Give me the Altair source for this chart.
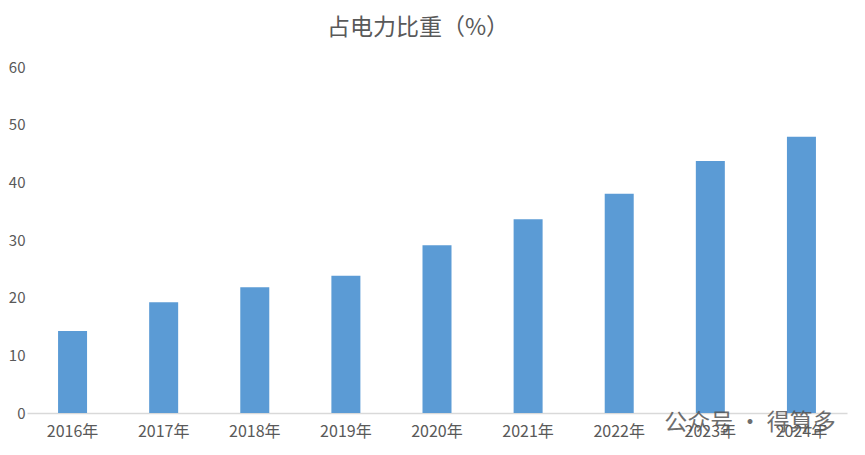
import altair as alt
import pandas as pd

years = ["2016年", "2017年", "2018年", "2019年", "2020年", "2021年", "2022年", "2023年", "2024年"]
shares = [14.2, 19.2, 21.8, 23.8, 29.1, 33.6, 38.0, 43.7, 47.9]
y_ticks = [0, 10, 20, 30, 40, 50, 60]
watermark_text = ["公众号 · 得算多"]
watermark_year = ["2023年"]

df = pd.DataFrame({"year": years, "share": shares})
wm = pd.DataFrame({"year": watermark_year, "share": [0], "label": watermark_text})

FONT = "Noto Sans CJK SC"

x_enc = alt.X("year:N", sort=years, title=None,
              scale=alt.Scale(paddingInner=0, paddingOuter=0),
              axis=alt.Axis(labelAngle=0, labelFontSize=16, labelColor="#595959",
                            labelFont=FONT, ticks=False, labelPadding=10,
                            domainColor="#d9d9d9", domainWidth=1.5))
y_enc = alt.Y("share:Q", title=None,
              scale=alt.Scale(domain=[0, 60], nice=False),
              axis=alt.Axis(values=y_ticks, grid=False, domain=False, ticks=False,
                            labelFontSize=15, labelColor="#595959", labelFont=FONT,
                            labelPadding=2))

bars = alt.Chart(df).mark_bar(color="#5b9bd5", size=29).encode(x=x_enc, y=y_enc)

mark = alt.Chart(wm).mark_text(align="left", baseline="alphabetic", dx=-46, dy=17,
                               fontSize=23, font=FONT, color="#555555", opacity=0.85).encode(
    x=alt.X("year:N", sort=years), y=alt.Y("share:Q"), text="label:N")

chart = alt.layer(bars, mark).properties(
    width=820, height=346,
    title=alt.TitleParams("占电力比重（%）", fontSize=23, font=FONT, color="#595959",
                          fontWeight="normal", anchor="middle", dx=-19, offset=20),
    autosize=alt.AutoSizeParams(type="none"),
    padding={"left": 19, "top": 59, "right": 10, "bottom": 34},
).configure_view(stroke=None)

chart.save("out.html", embed_options={"renderer": "svg", "actions": False})
